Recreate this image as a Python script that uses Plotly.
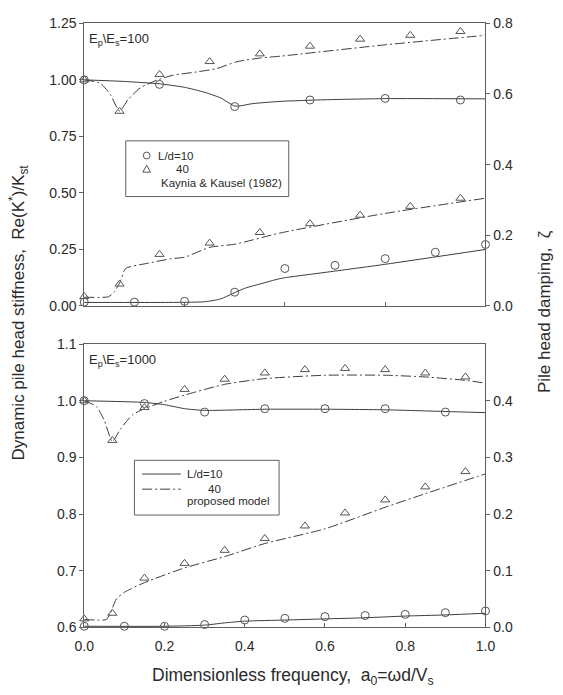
import plotly.graph_objects as go

# ---------------- data: top panel (Ep/Es = 100) ----------------
kk_x10 = [0, 0.1875, 0.375, 0.5625, 0.75, 0.9375]
kk_stiff10 = [1.00, 0.98, 0.882, 0.911, 0.918, 0.911]
kk_x40 = [0, 0.088, 0.1875, 0.3125, 0.4375, 0.5625, 0.6875, 0.8125, 0.9375]
kk_stiff40 = [1.00, 0.861, 1.024, 1.081, 1.115, 1.149, 1.18, 1.197, 1.214]
kk_xd10 = [0, 0.125, 0.25, 0.375, 0.5, 0.625, 0.75, 0.875, 1.0]
kk_damp10 = [0.011, 0.011, 0.013, 0.039, 0.106, 0.115, 0.134, 0.152, 0.174]
kk_damp40 = [0.027, 0.062, 0.146, 0.178, 0.208, 0.233, 0.257, 0.282, 0.305]

pm_xs10_a = [0, 0.1, 0.19, 0.25, 0.3, 0.34, 0.376, 0.42, 0.49, 0.6, 0.75, 1.0]
pm_s10_a = [1.0, 0.993, 0.982, 0.967, 0.945, 0.92, 0.884, 0.895, 0.905, 0.912, 0.917, 0.916]
pm_xs40_a = [0, 0.04, 0.065, 0.088, 0.11, 0.14, 0.18, 0.22, 0.28, 0.33, 0.38, 0.44, 0.49, 0.75, 1.0]
pm_s40_a = [1.0, 0.985, 0.935, 0.862, 0.915, 0.965, 0.998, 1.02, 1.035, 1.05, 1.08, 1.097, 1.105, 1.155, 1.197]
pm_xd10_a = [0, 0.1, 0.2, 0.3, 0.34, 0.37, 0.4, 0.45, 0.49, 0.6, 0.75, 1.0]
pm_d10_a = [0.01, 0.01, 0.01, 0.012, 0.02, 0.035, 0.05, 0.066, 0.078, 0.095, 0.118, 0.16]
pm_xd40_a = [0, 0.06, 0.075, 0.09, 0.103, 0.154, 0.218, 0.25, 0.313, 0.376, 0.49, 0.75, 1.0]
pm_d40_a = [0.025, 0.026, 0.04, 0.07, 0.106, 0.12, 0.134, 0.138, 0.166, 0.175, 0.207, 0.262, 0.305]

# ---------------- data: bottom panel (Ep/Es = 1000) ----------------
b_x10 = [0, 0.15, 0.3, 0.45, 0.6, 0.75, 0.9]
b_stiff10 = [1.0, 0.995, 0.98, 0.986, 0.986, 0.986, 0.98]
b_x40 = [0, 0.07, 0.15, 0.25, 0.35, 0.45, 0.55, 0.65, 0.75, 0.85, 0.95]
b_stiff40 = [1.0, 0.93, 0.988, 1.02, 1.038, 1.049, 1.055, 1.057, 1.055, 1.049, 1.042]
b_xd10 = [0, 0.1, 0.2, 0.3, 0.4, 0.5, 0.6, 0.7, 0.8, 0.9, 1.0]
b_damp10 = [0.002, 0.002, 0.002, 0.005, 0.013, 0.016, 0.019, 0.021, 0.023, 0.026, 0.029]
b_damp40 = [0.015, 0.025, 0.087, 0.113, 0.136, 0.157, 0.179, 0.202, 0.225, 0.248, 0.275]

pm_xs10_b = [0, 0.15, 0.2, 0.25, 0.3, 0.45, 0.6, 0.75, 0.9, 1.0]
pm_s10_b = [1.0, 0.997, 0.993, 0.986, 0.983, 0.985, 0.985, 0.984, 0.981, 0.979]
pm_xs40_b = [0, 0.03, 0.05, 0.07, 0.09, 0.12, 0.15, 0.2, 0.25, 0.35, 0.45, 0.6, 0.75, 0.85, 0.95, 1.0]
pm_s40_b = [1.0, 0.99, 0.965, 0.928, 0.95, 0.975, 0.986, 0.999, 1.01, 1.029, 1.039, 1.045, 1.045, 1.042, 1.036, 1.031]
pm_xd10_b = [0, 0.2, 0.3, 0.35, 0.4, 0.5, 0.6, 0.7, 0.8, 0.9, 1.0]
pm_d10_b = [0.002, 0.002, 0.004, 0.008, 0.011, 0.013, 0.015, 0.017, 0.02, 0.022, 0.025]
pm_xd40_b = [0, 0.055, 0.065, 0.08, 0.1, 0.15, 0.25, 0.35, 0.45, 0.6, 0.75, 0.85, 1.0]
pm_d40_b = [0.014, 0.014, 0.025, 0.05, 0.062, 0.079, 0.105, 0.125, 0.148, 0.174, 0.212, 0.236, 0.271]

# ---------------- styling ----------------
W, H = 563, 695
LINE_C = "#3c3c3c"
MARK_C = "#555555"
AX_C = "#606060"
TXT_C = "#2a2a2a"
FONT = "Arial, Liberation Sans, sans-serif"
DASHDOT = "10px,3px,2px,3px"


def px(x):
    return x / W


def py(y):
    return 1 - y / H


fig = go.Figure()


def line(x, y, xa, ya, dash="solid"):
    fig.add_trace(go.Scatter(x=x, y=y, xaxis=xa, yaxis=ya, mode="lines",
                             line=dict(color=LINE_C, width=1, dash=dash, shape="spline", smoothing=0.6),
                             showlegend=False, hoverinfo="skip"))


def marks(x, y, xa, ya, sym):
    fig.add_trace(go.Scatter(x=x, y=y, xaxis=xa, yaxis=ya, mode="markers", cliponaxis=False,
                             marker=dict(symbol=sym, size=8,
                                         color=MARK_C, line=dict(color=MARK_C, width=1)),
                             showlegend=False, hoverinfo="skip"))


# top panel
line(pm_xs10_a, pm_s10_a, "x", "y")
line(pm_xs40_a, pm_s40_a, "x", "y", DASHDOT)
line(pm_xd10_a, pm_d10_a, "x", "y2")
line(pm_xd40_a, pm_d40_a, "x", "y2", DASHDOT)
marks(kk_x10, kk_stiff10, "x", "y", "circle-open")
marks(kk_x40, kk_stiff40, "x", "y", "triangle-up-open")
marks(kk_xd10, kk_damp10, "x", "y2", "circle-open")
marks(kk_x40, kk_damp40, "x", "y2", "triangle-up-open")

# bottom panel
line(pm_xs10_b, pm_s10_b, "x2", "y3")
line(pm_xs40_b, pm_s40_b, "x2", "y3", DASHDOT)
line(pm_xd10_b, pm_d10_b, "x2", "y4")
line(pm_xd40_b, pm_d40_b, "x2", "y4", DASHDOT)
marks(b_x10, b_stiff10, "x2", "y3", "circle-open")
marks(b_x40, b_stiff40, "x2", "y3", "triangle-up-open")
marks(b_xd10, b_damp10, "x2", "y4", "circle-open")
marks(b_x40, b_damp40, "x2", "y4", "triangle-up-open")

xdom = [px(77), px(493)]
top_dom = [py(305), py(15.7)]
bot_dom = [py(634), py(344)]

tickfont = dict(family=FONT, size=14, color=TXT_C)
common = dict(showline=True, linecolor=AX_C, linewidth=1, showgrid=False, zeroline=False,
              tickcolor=AX_C, ticklen=4, tickfont=tickfont)

fig.update_layout(
    width=W, height=H, margin=dict(l=0, r=0, t=0, b=0),
    paper_bgcolor="white", plot_bgcolor="white", showlegend=False,
    xaxis=dict(domain=xdom, anchor="y", range=[0, 1], tickvals=[0.25, 0.5, 0.75],
               showticklabels=False, ticks="inside", mirror=True, **common),
    yaxis=dict(domain=top_dom, anchor="x", range=[0, 1.25], tickvals=[0, 0.25, 0.5, 0.75, 1.0, 1.25],
               tickformat=".2f", ticks="outside", mirror=True, **common),
    yaxis2=dict(overlaying="y", side="right", anchor="x", range=[0, 0.8],
                tickvals=[0, 0.2, 0.4, 0.6, 0.8], tickformat=".1f", ticks="outside", **common),
    xaxis2=dict(domain=xdom, anchor="y3", range=[0, 1], tickvals=[0, 0.2, 0.4, 0.6, 0.8, 1.0],
                tickformat=".1f", ticks="inside", mirror=True, ticklabelstandoff=6, **common),
    yaxis3=dict(domain=bot_dom, anchor="x2", range=[0.6, 1.1], tickvals=[0.6, 0.7, 0.8, 0.9, 1.0, 1.1],
                tickformat=".1f", ticks="outside", mirror=True, **common),
    yaxis4=dict(overlaying="y3", side="right", anchor="x2", range=[0, 0.5],
                tickvals=[0, 0.1, 0.2, 0.3, 0.4], tickformat=".1f", ticks="outside", **common),
)

ann = []


def text(x, y, t, size=13, xanchor="left", angle=0):
    ann.append(dict(x=px(x), y=py(y), xref="paper", yref="paper", text=t, showarrow=False,
                    xanchor=xanchor, yanchor="middle", textangle=angle,
                    font=dict(family=FONT, size=size, color=TXT_C)))


text(80, 32, "E<sub>p</sub>\\E<sub>s</sub>=100", 13)
text(80, 361, "E<sub>p</sub>\\E<sub>s</sub>=1000", 13)

# legends
text(151, 151, "L/d=10", 11.5)
text(170, 165, "40", 11.5)
text(155, 179, "Kaynia &amp; Kausel (1982)", 11.5)
text(181, 477, "L/d=10", 11.5)
text(203, 492, "40", 11.5)
text(181, 505, "proposed model", 11.5)

# axis titles
text(293, 684, "Dimensionless frequency,  a<sub>0</sub>=\u03c9d/V<sub>s</sub>", 17.5, xanchor="center")
text(9, 312, "Dynamic pile head stiffness,  Re(K<sup>*</sup>)/K<sub>st</sub>", 17, xanchor="center", angle=-90)
text(555, 311, "Pile head damping,  \u03b6", 17, xanchor="center", angle=-90)

fig.update_layout(annotations=ann)

shapes = []
# legend boxes
shapes.append(dict(type="rect", xref="paper", yref="paper", x0=px(120), x1=px(289), y0=py(193), y1=py(136),
                   line=dict(color=AX_C, width=1)))
shapes.append(dict(type="rect", xref="paper", yref="paper", x0=px(129), x1=px(279), y0=py(519), y1=py(463),
                   line=dict(color=AX_C, width=1)))
# legend symbols
cx, cy, r = 141.7, 151, 3.5
shapes.append(dict(type="circle", xref="paper", yref="paper", x0=px(cx - r), x1=px(cx + r),
                   y0=py(cy + r), y1=py(cy - r), line=dict(color=MARK_C, width=1)))
tx, ty = 141.7, 165
shapes.append(dict(type="path", xref="paper", yref="paper",
                   path=f"M {px(tx)},{py(ty - 4)} L {px(tx + 4)},{py(ty + 3)} L {px(tx - 4)},{py(ty + 3)} Z",
                   line=dict(color=MARK_C, width=1)))
shapes.append(dict(type="line", xref="paper", yref="paper", x0=px(137), x1=px(177), y0=py(477), y1=py(477),
                   line=dict(color=LINE_C, width=1)))
shapes.append(dict(type="line", xref="paper", yref="paper", x0=px(137), x1=px(177), y0=py(492.5), y1=py(492.5),
                   line=dict(color=LINE_C, width=1, dash=DASHDOT)))
fig.update_layout(shapes=shapes)

fig.write_html("out.html")
